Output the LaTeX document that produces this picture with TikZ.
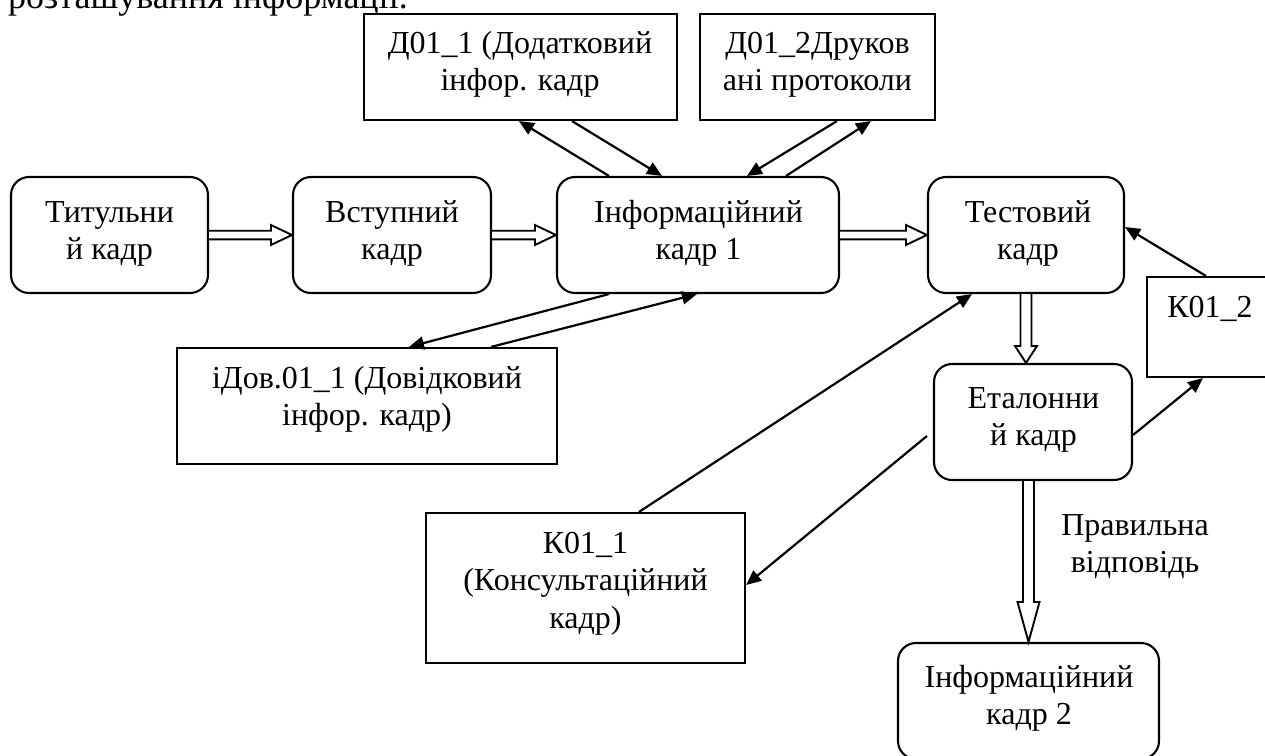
\documentclass[tikz,border=0pt]{standalone}
\usepackage{fontspec}
\setmainfont{Liberation Serif}
\usetikzlibrary{arrows.meta,calc}
\newcommand{\mlines}[1]{\begin{tabular}[t]{@{}c@{}}#1\end{tabular}}
% horizontal hollow block arrow: #1 start, #2 end, #3 half gap, #4 head length, #5 head half width
\newcommand{\hblock}[5]{\draw[dblarrow] let \p1=(#1), \p2=(#2) in
  (\x1,\y1+#3) -- (\x2-#4,\y1+#3) -- (\x2-#4,\y1+#5) -- (\x2,\y1) --
  (\x2-#4,\y1-#5) -- (\x2-#4,\y1-#3) -- (\x1,\y1-#3);}
% vertical (downward) hollow block arrow
\newcommand{\vblock}[5]{\draw[dblarrow] let \p1=(#1), \p2=(#2) in
  (\x1-#3,\y1) -- (\x1-#3,\y2+#4) -- (\x1-#5,\y2+#4) -- (\x2,\y2) --
  (\x1+#5,\y2+#4) -- (\x1+#3,\y2+#4) -- (\x1+#3,\y1);}
\begin{document}
\begin{tikzpicture}[x=1pt,y=-1pt,
  frame/.style={draw,line width=2.1pt,inner sep=0pt,fill=white},
  rbox/.style={frame,rounded corners=18pt},
  sbox/.style={frame},
  txt/.style={inner sep=0pt,anchor=base,font=\fontsize{32}{37.5}\selectfont},
  conn/.style={line width=2.2pt,-{Triangle[length=15pt,width=13pt]}},
  dblarrow/.style={draw,line width=1.9pt,fill=white,line join=miter}]
\useasboundingbox (0,0) rectangle (1265,755);
\clip (0,0) rectangle (1265,755);
\fill[white] (0,0) rectangle (1265,755);

% cut-off text at the top
\node[inner sep=0pt,anchor=base west,font=\fontsize{36}{42}\selectfont] (top) at (8,8.5) {розташування інформації.};

% boxes
\node[rbox,minimum width=197pt,minimum height=116pt] (tit)  at (109.5,235) {};
\node[rbox,minimum width=198pt,minimum height=116pt] (vst)  at (392,235) {};
\node[rbox,minimum width=282pt,minimum height=116pt] (inf1) at (698,235) {};
\node[rbox,minimum width=196pt,minimum height=116pt] (test) at (1026,235) {};
\node[sbox,minimum width=313pt,minimum height=106pt] (d1)   at (520.5,67) {};
\node[sbox,minimum width=235pt,minimum height=106pt] (d2)   at (817.5,67) {};
\node[sbox,minimum width=380pt,minimum height=116pt] (idov) at (367,406) {};
\node[sbox,minimum width=319pt,minimum height=150pt] (k011) at (585.5,588) {};
\node[sbox,minimum width=126pt,minimum height=100pt] (k012) at (1210,327) {};
\node[rbox,minimum width=198pt,minimum height=116pt] (etal) at (1033,422) {};
\node[rbox,minimum width=261pt,minimum height=116pt] (inf2) at (1028.5,701) {};

% texts
\node[txt] (ttit)  at (109.5,222) {\mlines{Титульни\\й кадр}};
\node[txt] (tvst)  at (392,222)   {\mlines{Вступний\\кадр}};
\node[txt] (tinf1) at (698.5,222) {\mlines{Інформаційний\\кадр 1}};
\node[txt] (ttest) at (1028,222)  {\mlines{Тестовий\\кадр}};
\node[txt] (td1)   at (520,53)    {\mlines{Д01\_1 (Додатковий\\інфор. кадр}};
\node[txt] (td2)   at (817.5,53)  {\mlines{Д01\_2Друков\\ані протоколи}};
\node[txt] (tidov) at (367,388)   {\mlines{іДов.01\_1 (Довідковий\\інфор. кадр)}};
\node[txt] (tk011) at (585.5,553) {\mlines{К01\_1\\(Консультаційний\\кадр)}};
\node[txt] (tk012) at (1210,317)  {К01\_2};
\node[txt] (tetal) at (1033.5,408){\mlines{Еталонни\\й кадр}};
\node[txt] (tinf2) at (1029,687)  {\mlines{Інформаційний\\кадр 2}};
\node[txt] (tprav) at (1135,535)  {\mlines{Правильна\\відповідь}};

% hollow block arrows
\hblock{tit.east}{vst.west}{4.3pt}{21pt}{10pt}
\hblock{vst.east}{inf1.west}{4.3pt}{21pt}{10pt}
\hblock{inf1.east}{test.west}{4.3pt}{21pt}{10pt}
\vblock{test.south}{test.south |- etal.north}{5.5pt}{17pt}{11pt}
\vblock{inf2.north |- etal.south}{inf2.north}{5.5pt}{40pt}{11pt}

% single arrows
\draw[conn] ($(inf1.north west)+(53,0)$)  -- ($(d1.south west)+(156,0)$);
\draw[conn] ($(d1.south west)+(209,0)$)   -- ($(inf1.north west)+(106,0)$);
\draw[conn] ($(d2.south west)+(138,0)$)   -- ($(inf1.north west)+(191,0)$);
\draw[conn] ($(inf1.north west)+(230,0)$) -- ($(d2.south west)+(172,0)$);
\draw[conn] ($(inf1.south west)+(53,0)$)  -- ($(idov.north west)+(233,0)$);
\draw[conn] ($(idov.north west)+(315,0)$) -- ($(inf1.south west)+(141,0)$);
\draw[conn] ($(k011.north west)+(214,0)$) -- ($(test.south west)+(45,0)$);
\coordinate (c8) at ($(etal.west)+(-6,14)$);
\draw[conn] (c8) -- ($(k011.east)+(0,-3)$);
\draw[conn] ($(etal.east)+(0,13)$) -- ($(k012.south west)+(57,0)$);
\draw[conn] ($(k012.north west)+(60,0)$) -- ($(test.east)+(0,-8)$);
\end{tikzpicture}
\end{document}
